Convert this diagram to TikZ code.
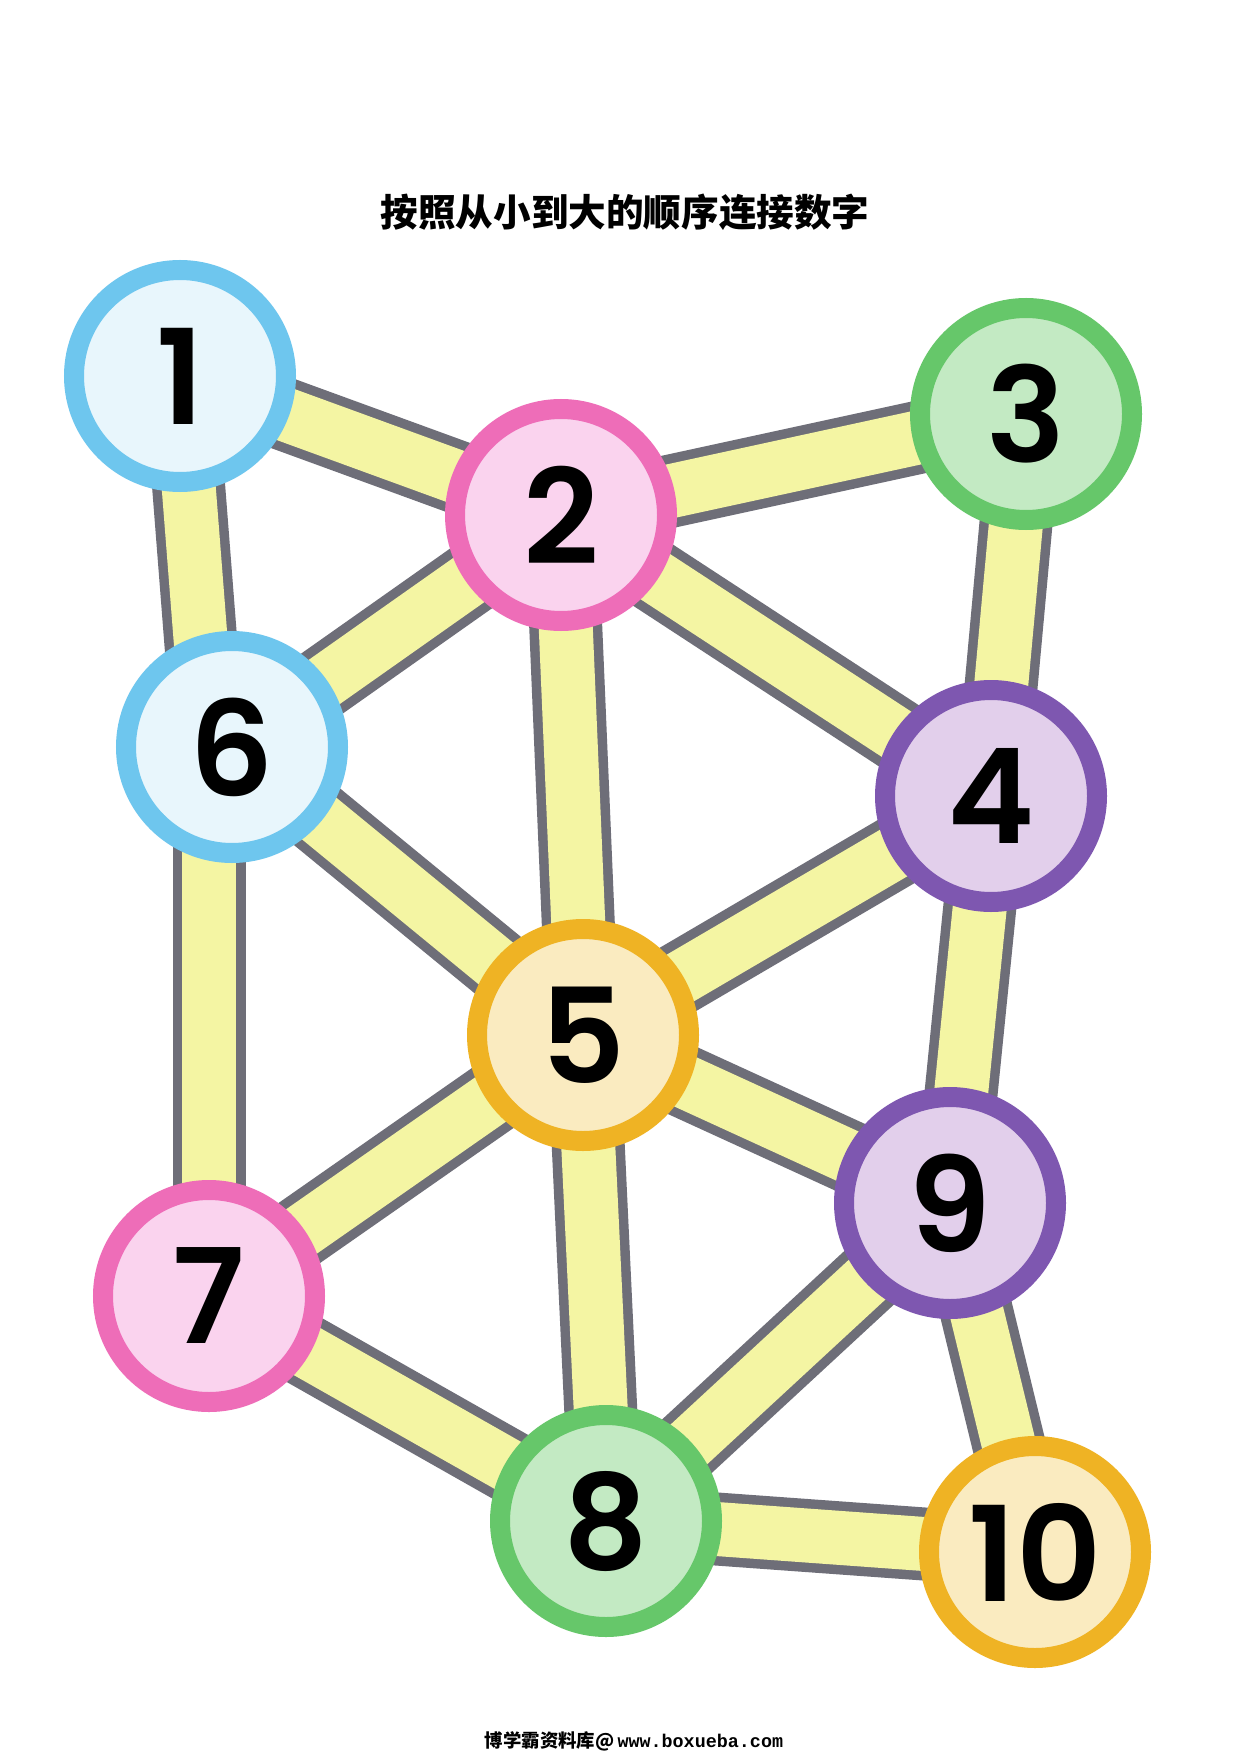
\documentclass[tikz,border=0pt]{standalone}
\usepackage{fontspec}
\setmainfont{Poppins}[BoldFont={Poppins SemiBold}]
\newfontfamily\cjk{Noto Sans CJK SC}
\newfontfamily\webfont{Liberation Mono}
\usetikzlibrary{backgrounds}

\definecolor{ringblue}{HTML}{6EC6EE}
\definecolor{fillblue}{HTML}{E8F6FC}
\definecolor{ringpink}{HTML}{EE6DB8}
\definecolor{fillpink}{HTML}{FAD3EE}
\definecolor{ringgreen}{HTML}{66C76A}
\definecolor{fillgreen}{HTML}{C3EAC3}
\definecolor{ringpurple}{HTML}{7E57B0}
\definecolor{fillpurple}{HTML}{E2CFEB}
\definecolor{ringorange}{HTML}{EFB324}
\definecolor{fillorange}{HTML}{FAEBC0}
\definecolor{bargrey}{HTML}{6E6E78}
\definecolor{baryellow}{HTML}{F4F5A3}

\tikzset{
  num/.style={circle, minimum size=106pt, line width=10pt, inner sep=0pt,
    font=\bfseries\fontsize{66}{66}\selectfont},
  numblue/.style={num, draw=ringblue, fill=fillblue},
  numpink/.style={num, draw=ringpink, fill=fillpink},
  numgreen/.style={num, draw=ringgreen, fill=fillgreen},
  numpurple/.style={num, draw=ringpurple, fill=fillpurple},
  numorange/.style={num, draw=ringorange, fill=fillorange},
  barout/.style={draw=bargrey, line width=36.5pt},
  barin/.style={draw=baryellow, line width=27pt}
}

\begin{document}
\begin{tikzpicture}[x=0.5pt, y=-0.5pt]
\useasboundingbox (0,0) rectangle (1240,1754);

% numbered discs
\node[numblue] (n1) at (180,376) {1};
\node[numpink] (n2) at (561,515) {2};
\node[numgreen] (n3) at (1026,414) {3};
\node[numpurple] (n4) at (991,796) {4};
\node[numorange] (n5) at (583,1035) {5};
\node[numblue] (n6) at (232,747) {6};
\node[numpink] (n7) at (209,1296) {7};
\node[numgreen] (n8) at (606,1521) {8};
\node[numpurple] (n9) at (950,1203) {9};
\node[numorange] (n10) at (1035,1552) {10};
\coordinate (n6low) at (n6.center -| n7.center);

% title and footer
\node (title) at (625,212) {\cjk\bfseries\fontsize{18.8}{18.8}\selectfont 按照从小到大的顺序连接数字};
\node (foot) at (634,1741) {\cjk\bfseries\fontsize{9.2}{9.2}\selectfont 博学霸资料库@\,\webfont www.boxueba.com};

% the bars, behind the discs
\begin{scope}[on background layer]
\fill[white] (0,0) rectangle (1240,1754);
\foreach \a/\b in {n1/n6low, n6low/n7, n1/n2, n2/n3, n2/n6, n2/n5, n2/n4, n3/n4, n6/n5,
                   n4/n5, n4/n9, n5/n7, n5/n8, n5/n9, n9/n8, n9/n10, n7/n8, n8/n10}
  \draw[barout] (\a.center) -- (\b.center);
\foreach \a/\b in {n1/n6low, n6low/n7, n1/n2, n2/n3, n2/n6, n2/n5, n2/n4, n3/n4, n6/n5,
                   n4/n5, n4/n9, n5/n7, n5/n8, n5/n9, n9/n8, n9/n10, n7/n8, n8/n10}
  \draw[barin] (\a.center) -- (\b.center);
\end{scope}
\end{tikzpicture}
\end{document}
